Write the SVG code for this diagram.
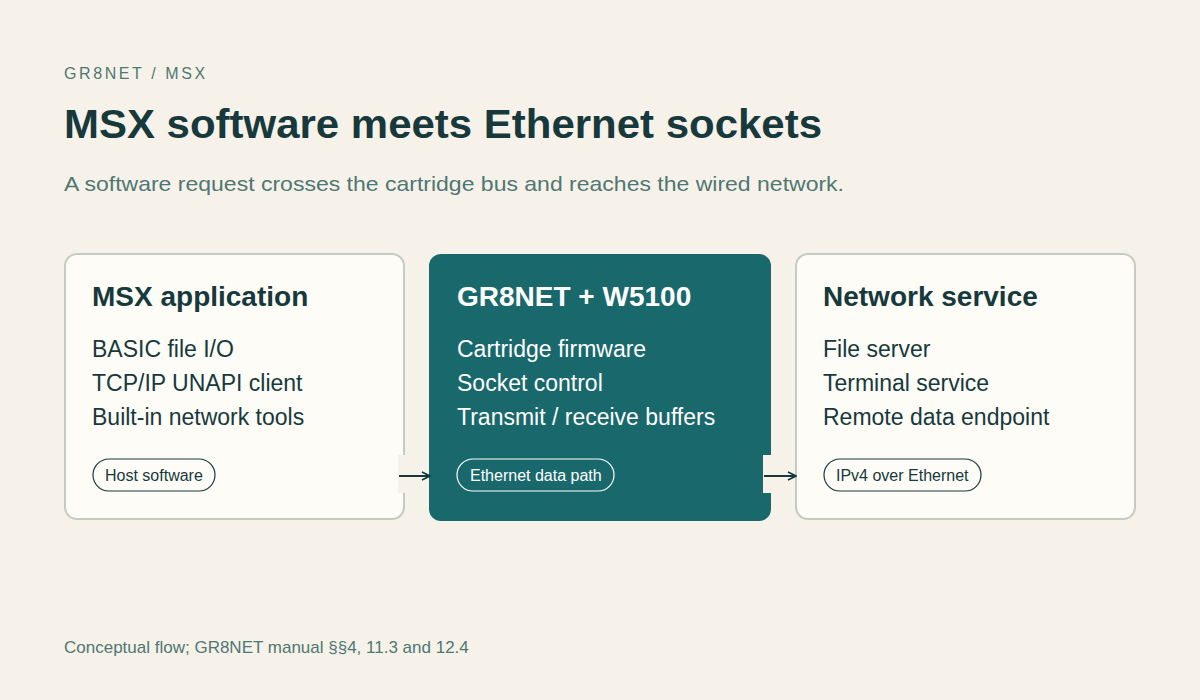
<svg xmlns="http://www.w3.org/2000/svg" width="1200" height="700" viewBox="0 0 1200 700">
<style>
.t{font-family:"Liberation Sans",Arial,sans-serif}
.card{fill:#fdfcf7;stroke:#c6cbbf;stroke-width:2}
.h{font-size:28px;font-weight:bold;fill:#17393c}
.b{font-size:23px;fill:#17393c}
.pill{fill:none;stroke:#17393c;stroke-width:1.2}
.pt{font-size:16px;fill:#17393c}
.w{fill:#ffffff}
.conn{stroke:#17393c;stroke-width:2;fill:none}
</style>
<defs><marker id="ah" viewBox="0 0 10 10" refX="9" refY="5" markerWidth="10" markerHeight="10" markerUnits="userSpaceOnUse" orient="auto"><path d="M1,1 L9,5 L1,9" fill="none" stroke="#17393c" stroke-width="1.8"/></marker></defs>
<rect width="1200" height="700" fill="#f6f2e9"/>
<text class="t" x="64" y="79" font-size="16" letter-spacing="2.6" fill="#4f7774">GR8NET / MSX</text>
<text class="t" x="64" y="138" font-size="41" font-weight="bold" fill="#17393c" textLength="758" lengthAdjust="spacingAndGlyphs">MSX software meets Ethernet sockets</text>
<text class="t" x="64" y="191" font-size="21" fill="#4f7774" textLength="780" lengthAdjust="spacingAndGlyphs">A software request crosses the cartridge bus and reaches the wired network.</text>
<g id="msx-app">
<rect class="card" x="65" y="254" width="339" height="265" rx="12"/>
<text class="t h" x="92" y="306">MSX application</text>
<text class="t b" x="92" y="357">BASIC file I/O</text>
<text class="t b" x="92" y="391">TCP/IP UNAPI client</text>
<text class="t b" x="92" y="425">Built-in network tools</text>
<rect class="pill" x="93" y="459" width="122" height="32" rx="16"/>
<text class="t pt" x="105" y="481">Host software</text>
</g>
<g id="gr8net">
<rect x="429" y="254" width="342" height="267" rx="12" fill="#19686c"/>
<text class="t h w" x="457" y="306">GR8NET + W5100</text>
<text class="t b w" x="457" y="357">Cartridge firmware</text>
<text class="t b w" x="457" y="391">Socket control</text>
<text class="t b w" x="457" y="425">Transmit / receive buffers</text>
<rect x="457" y="459" width="157" height="32" rx="16" fill="none" stroke="#ffffff" stroke-width="1.2"/>
<text class="t pt w" x="470" y="481">Ethernet data path</text>
</g>
<g id="network-service">
<rect class="card" x="796" y="254" width="339" height="265" rx="12"/>
<text class="t h" x="823" y="306">Network service</text>
<text class="t b" x="823" y="357">File server</text>
<text class="t b" x="823" y="391">Terminal service</text>
<text class="t b" x="823" y="425">Remote data endpoint</text>
<rect class="pill" x="824" y="459" width="157" height="32" rx="16"/>
<text class="t pt" x="836" y="481">IPv4 over Ethernet</text>
</g>
<g id="connectors">
<rect x="398" y="455" width="31" height="38" fill="#f6f2e9"/>
<line class="conn" x1="399" y1="476" x2="430" y2="476" marker-end="url(#ah)"/>
<rect x="763" y="455" width="32" height="38" fill="#f6f2e9"/>
<line class="conn" x1="764" y1="476" x2="796" y2="476" marker-end="url(#ah)"/>
</g>
<text class="t" x="64" y="653" font-size="17" fill="#4f7774">Conceptual flow; GR8NET manual §§4, 11.3 and 12.4</text>
</svg>
